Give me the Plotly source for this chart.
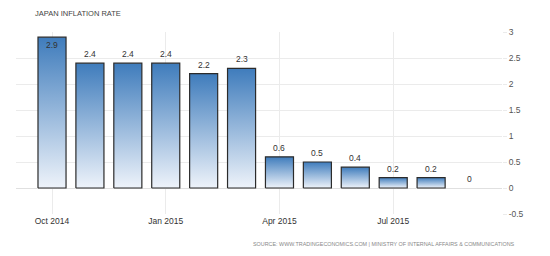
import plotly.graph_objects as go

months = ["Oct 2014", "Nov 2014", "Dec 2014", "Jan 2015", "Feb 2015", "Mar 2015",
          "Apr 2015", "May 2015", "Jun 2015", "Jul 2015", "Aug 2015", "Sep 2015"]
inflation = [2.9, 2.4, 2.4, 2.4, 2.2, 2.3, 0.6, 0.5, 0.4, 0.2, 0.2, 0.0]
tick_labels = ["Oct 2014", "Jan 2015", "Apr 2015", "Jul 2015"]
y_ticks = [-0.5, 0, 0.5, 1, 1.5, 2, 2.5, 3]

BAR_W = 0.74
FONT = "Liberation Sans"
xpos = list(range(len(months)))

fig = go.Figure()

# gradient-filled bars (one shape per bar, gradient from bottom to top)
for i, v in zip(xpos, inflation):
    if v == 0:
        continue
    x0, x1 = i - BAR_W / 2, i + BAR_W / 2
    fig.add_trace(go.Scatter(
        x=[x0, x1, x1, x0, x0], y=[0, 0, v, v, 0],
        mode="lines", fill="toself",
        line=dict(color="#2b2b2b", width=1.2),
        fillgradient=dict(type="vertical",
                          colorscale=[[0, "#eef3fa"], [1, "#3f7cbc"]]),
        hoverinfo="skip", showlegend=False,
    ))

# invisible bar trace carrying the data
fig.add_trace(go.Bar(
    x=xpos, y=inflation, width=BAR_W,
    marker=dict(color="rgba(0,0,0,0)", line=dict(width=0)),
    hovertext=months, showlegend=False,
))

ymax = max(y_ticks)
for i, v in zip(xpos, inflation):
    inside = v > ymax - 0.2
    fig.add_annotation(
        x=i, y=v, text=f"{v:g}", showarrow=False,
        yanchor="top" if inside else "bottom",
        yshift=-1 if inside else 2,
        font=dict(family=FONT, size=8.5, color="#333333"),
    )

fig.add_annotation(
    xref="paper", yref="paper", x=0.034, y=1.0, yshift=19,
    text="JAPAN INFLATION RATE", showarrow=False,
    xanchor="left", yanchor="middle",
    font=dict(family=FONT, size=7.5, color="#444444"),
)
fig.add_annotation(
    xref="paper", yref="paper", x=1.0, xshift=15, y=0, yshift=-30,
    text="SOURCE: WWW.TRADINGECONOMICS.COM | MINISTRY OF INTERNAL AFFAIRS & COMMUNICATIONS",
    showarrow=False, xanchor="right", yanchor="middle",
    font=dict(family=FONT, size=5.4, color="#888888"),
)

fig.update_layout(
    width=550, height=256,
    margin=dict(l=16, r=48, t=32, b=42),
    paper_bgcolor="white", plot_bgcolor="white",
    font=dict(family=FONT, size=8.5, color="#555555"),
    xaxis=dict(
        range=[-0.95, 11.87],
        tickmode="array",
        tickvals=[months.index(t) for t in tick_labels],
        ticktext=tick_labels,
        showgrid=True, gridcolor="#ebebeb", gridwidth=1,
        zeroline=False, showline=False, ticks="",
        tickfont=dict(family=FONT, size=8.5, color="#333333"),
    ),
    yaxis=dict(
        range=[-0.5, 3],
        side="right",
        tickmode="array", tickvals=y_ticks,
        ticktext=[f"{t:g}" for t in y_ticks],
        showgrid=True, gridcolor="#ebebeb", gridwidth=1,
        zeroline=True, zerolinecolor="#e0e0e0", zerolinewidth=1,
        showline=False, ticks="outside", ticklen=4, tickcolor="#ebebeb",
        tickfont=dict(family=FONT, size=8.5, color="#555555"),
    ),
)

fig.write_html("out.html")
